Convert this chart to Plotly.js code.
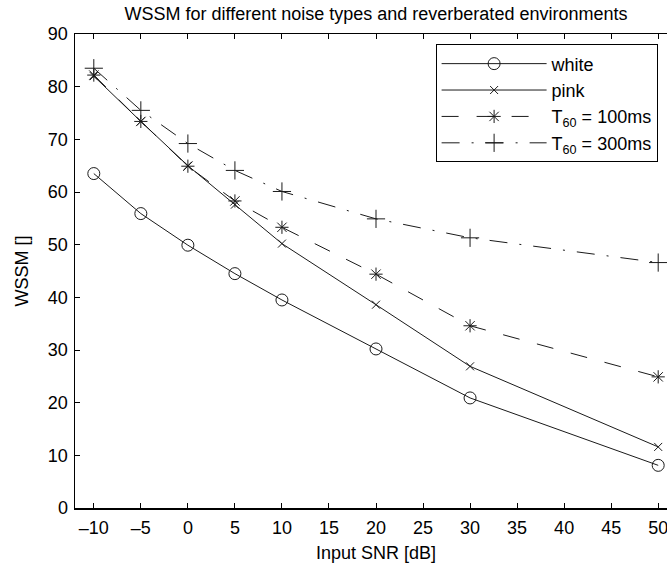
<!DOCTYPE html>
<html>
<head>
<meta charset="utf-8">
<script src="https://cdn.plot.ly/plotly-3.0.1.min.js"></script>
<style>
html,body{margin:0;padding:0;overflow:hidden;background:#fff;width:667px;height:567px;}
#chart{width:678px;height:567px;}
</style>
</head>
<body>
<div id="chart"></div>
<script>
var snr = [-10, -5, 0, 5, 10, 20, 30, 50];
var white = [63.5, 55.9, 49.9, 44.5, 39.5, 30.2, 20.9, 8.1];
var pink = [82.0, 73.4, 65.0, 57.6, 50.2, 38.6, 26.9, 11.6];
var t60_100 = [82.2, 73.4, 64.9, 58.3, 53.3, 44.4, 34.6, 24.9];
var t60_300 = [83.5, 75.5, 69.2, 64.1, 60.1, 54.9, 51.3, 46.6];
var seriesNames = ['white', 'pink', 'T<sub>60</sub> = 100ms', 'T<sub>60</sub> = 300ms'];
var xTickVals = [-10, -5, 0, 5, 10, 15, 20, 25, 30, 35, 40, 45, 50];
var xTickText = ['\u201310', '\u20135', '0', '5', '10', '15', '20', '25', '30', '35', '40', '45', '50'];
var yTickVals = [0, 10, 20, 30, 40, 50, 60, 70, 80, 90];

var ink = '#1a1a1a';
function tr(y, name, dash, symbol, size) {
  return {
    x: snr, y: y, name: name, type: 'scatter', mode: 'lines+markers',
    line: {color: ink, width: 1, dash: dash},
    marker: {symbol: symbol, size: size, color: ink, line: {color: ink, width: 1}}
  };
}
var data = [
  tr(white, seriesNames[0], 'solid', 'circle-open', 12),
  tr(pink, seriesNames[1], 'solid', 'x-thin-open', 8),
  tr(t60_100, seriesNames[2], '17px,18px', 'asterisk-open', 11),
  tr(t60_300, seriesNames[3], '18px,12px,2px,12px', 'cross-thin-open', 13)
];
var font = {family: 'Liberation Sans, Arial, sans-serif', size: 18, color: '#000'};
var layout = {
  width: 678, height: 567,
  margin: {l: 75, r: 1, t: 34, b: 59},
  paper_bgcolor: '#fff', plot_bgcolor: '#fff',
  font: font,
  showlegend: true,
  title: {text: 'WSSM for different noise types and reverberated environments',
          font: {family: font.family, size: 18, color: '#000'},
          x: 0.5, xref: 'paper', y: 1 - 14/567, yref: 'container', yanchor: 'middle'},
  xaxis: {
    range: [-12, 52], tickvals: xTickVals, ticktext: xTickText,
    ticks: 'inside', ticklen: 5, tickwidth: 1, tickcolor: '#000',
    showline: true, linecolor: '#000', linewidth: 1.5, mirror: 'ticks',
    showgrid: false, zeroline: false, tickfont: font, ticklabelstandoff: 3,
    title: {text: 'Input SNR [dB]', font: font, standoff: 9}
  },
  yaxis: {
    range: [0, 90], tickvals: yTickVals,
    ticks: 'inside', ticklen: 5, tickwidth: 1, tickcolor: '#000',
    showline: true, linecolor: '#000', linewidth: 1.5, mirror: 'ticks',
    showgrid: false, zeroline: false, tickfont: font, ticklabelstandoff: 2,
    title: {text: 'WSSM []', font: font, standoff: 14}
  },
  legend: {
    x: 0.599, y: 0.978, xanchor: 'left', yanchor: 'top',
    xref: 'paper', yref: 'paper',
    bgcolor: '#fff', bordercolor: '#000', borderwidth: 1,
    font: font, itemwidth: 105
  }
};
Plotly.newPlot('chart', data, layout, {displayModeBar: false, staticPlot: true});
</script>
</body>
</html>
